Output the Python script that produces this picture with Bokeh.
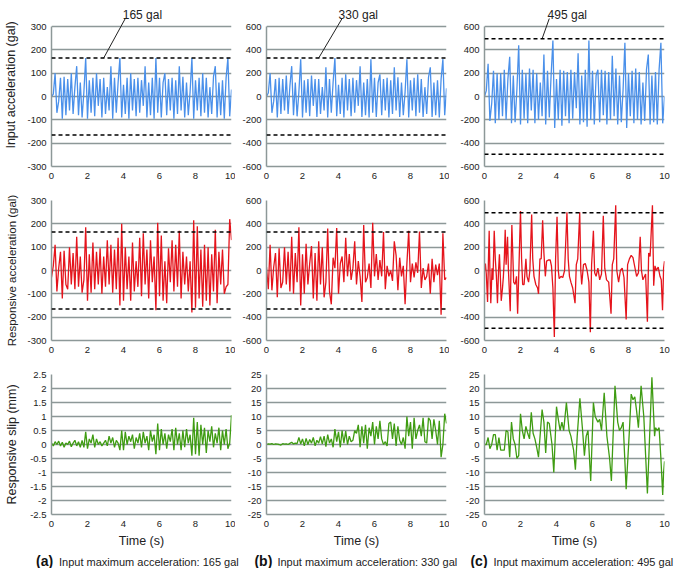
import numpy as np
from bokeh.plotting import figure
from bokeh.layouts import column, row
from bokeh.models import Range1d, FixedTicker, Span
from bokeh.core.properties import value
from bokeh.embed import file_html
from bokeh.resources import INLINE

# ---------------- data ----------------
input_165 = [0, 10, 100, -70, -20, 80, -95, 85, -80, 75, -60, 100, -75, 40, 130, -80, 60, -90, 20, 165,
             -95, 70, -70, 80, -85, 100, -40, 75, -90, 80, -75, 40, -60, 130, -95, 80, -70, 60, 165, -90,
             50, -75, 80, -95, 100, -60, 75, -85, 80, -70, 70, -40, 130, -90, 60, -80, 80, -95, 165, -70,
             80, -90, 60, 100, -80, 75, -60, 80, -95, 70, -75, 130, -60, 85, -90, 60, -80, 20, 165, -95,
             70, -60, 80, -85, 100, -70, 80, -90, 40, -75, 85, 130, -90, 60, -80, 70, -95, 80, 165, -85, 30]
input_330 = [0, 30, 200, -140, -40, 150, -180, 160, -150, 150, -120, 180, -150, 90, 260, -160, 120, -170, 40, 320,
             -180, 140, -140, 150, -170, 180, -80, 150, -175, 150, -150, 80, -120, 250, -180, 150, -140, 120, 330, -170,
             100, -150, 160, -180, 190, -120, 150, -170, 160, -140, 140, -80, 260, -175, 120, -160, 150, -180, 320, -140,
             160, -175, 120, 190, -160, 150, -120, 160, -180, 140, -150, 250, -120, 165, -175, 120, -160, 40, 320, -180,
             140, -120, 160, -170, 190, -140, 150, -175, 80, -150, 165, 250, -175, 120, -160, 140, -180, 150, 320, -160, 70]
input_495 = [0, 50, 280, -210, -60, 220, -230, 200, -200, 200, -170, 230, -200, 150, 340, -230, 180, -220, 60, 440,
             -240, 230, -190, 200, -230, 240, -120, 230, -230, 200, -200, 120, -170, 360, -240, 220, -180, 180, 480, -270,
             150, -200, 230, -250, 220, -170, 210, -230, 230, -190, 210, -100, 370, -240, 180, -220, 230, -260, 480, -200,
             220, -240, 180, 230, -220, 230, -160, 220, -240, 210, -200, 350, -170, 240, -240, 180, -220, 60, 460, -270,
             200, -170, 220, -230, 240, -200, 210, -240, 120, -210, 230, 360, -240, 180, -220, 210, -240, 230, 460, -230, 0]

resp_165 = [-30, 20, 110, -90, 10, 80, -120, 85, -60, -80, 100, -60, 75, -80, 145, -70, 60, -95, -40, 185,
            -130, 70, -95, 120, -80, 80, -60, 95, -100, 60, -70, 130, -60, 110, -95, 90, -80, 140, -150, 200,
            -130, 100, -80, 60, -130, 120, -90, 40, -70, 140, -110, 160, -60, 90, -120, 130, -50, 60, -170, 205,
            -110, 150, -130, 40, -140, 95, -50, 130, -90, 110, -70, 170, -120, 80, -60, 60, -90, 40, -180, 215,
            -160, 190, -120, 90, -155, 110, -130, 100, -150, 70, -90, 175, -140, 80, -60, 90, -100, -70, -60, 220, 130]
resp_330 = [30, -160, 220, -170, 30, 150, -230, 190, -150, -100, 200, -120, 160, -180, 290, -200, 150, -100, 370, -300,
            140, -200, 230, -120, 60, 210, -240, 150, -260, 250, -120, 200, -230, -100, 360, -180, -290, 110, 20, 365,
            -200, 60, 120, -100, 280, -50, 140, -80, 20, 250, -120, 80, -50, -270, 390, -100, -60, 60, -150, 410,
            -50, 140, -80, 90, -50, 330, -160, 40, -50, 0, -90, 250, 130, -170, 110, -50, 40, -290, 60, 340,
            -100, 60, -60, 70, -20, 335, -150, 20, -80, -50, 60, -200, 100, -100, 50, -40, 60, -380, 320, -80, -60]
resp_495_t = [0.0, 0.05, 0.1, 0.17, 0.22, 0.26, 0.3, 0.35, 0.42, 0.47, 0.54, 0.6, 0.66, 0.72, 0.78, 0.83, 0.88, 0.93,
              1.0, 1.05, 1.1, 1.15, 1.2, 1.28, 1.33, 1.43, 1.47, 1.52, 1.57, 1.62, 1.7, 1.78, 1.84, 1.9, 2.0, 2.06,
              2.12, 2.2, 2.3, 2.36, 2.45, 2.52, 2.62, 2.68, 2.75, 2.85, 2.95, 3.0, 3.08, 3.15, 3.23, 3.3, 3.38, 3.45,
              3.55, 3.65, 3.72, 3.8, 3.88, 3.95, 4.03, 4.1, 4.15, 4.25, 4.35, 4.45, 4.58, 4.65, 4.72, 4.8, 4.9, 5.03,
              5.1, 5.18, 5.29, 5.35, 5.4, 5.5, 5.6, 5.7, 5.8, 5.88, 5.95, 6.05, 6.12, 6.2, 6.3, 6.4, 6.5, 6.6, 6.68,
              6.78, 6.9, 7.03, 7.1, 7.18, 7.29, 7.35, 7.45, 7.55, 7.65, 7.75, 7.87, 7.95, 8.05, 8.15, 8.25, 8.35, 8.45,
              8.55, 8.65, 8.72, 8.8, 8.95, 9.05, 9.12, 9.2, 9.33, 9.4, 9.47, 9.55, 9.65, 9.75, 9.82, 9.89, 9.95, 10.0]
resp_495 = [0, 60, -30, -270, 100, 340, 0, -280, 20, -80, 340, 100, -50, -280, 0, 140, -50, -260,
            -150, -50, 100, 350, 50, 290, 0, -350, 0, 390, 150, -100, -120, -50, -370, -50, 510, 100,
            -120, -120, 100, -50, -100, 0, 480, 100, -50, -120, -150, -200, 100, 100, 430, 150, -50, 80,
            90, 90, 40, -150, -570, 100, 460, 0, -70, -50, -60, 0, 500, 100, -50, -100, -150, -280,
            50, 100, 500, 0, -120, 50, 60, 0, -100, -530, 50, 340, -20, -50, 20, -80, -30, 470, 20,
            -80, -100, -370, 50, 100, 560, 0, -100, 0, 20, -60, -420, 50, 100, 130, 110, 30, -50,
            -20, 290, 0, -80, -30, -440, 150, 120, 560, -130, 40, 0, 30, -50, -80, -340, 20, 80]

slip_165 = [0.05, -0.05, 0.1, 0.0, 0.12, -0.05, 0.08, -0.1, 0.05, 0.0, 0.12, -0.08, 0.05, 0.15, -0.05, 0.1, -0.1,
            0.15, -0.1, 0.45, -0.15, 0.2, 0.05, 0.35, -0.1, 0.2, 0.0, 0.1, -0.05, 0.05, 0.15, -0.05, 0.3, 0.05,
            0.25, -0.1, 0.15, 0.05, -0.2, 0.5, -0.2, 0.45, 0.0, 0.3, 0.1, 0.35, -0.15, 0.25, 0.05, 0.4, -0.1,
            0.45, 0.05, 0.3, -0.2, 0.5, 0.1, 0.35, -0.35, 0.75, -0.2, 0.55, 0.0, 0.4, -0.15, 0.35, 0.1, 0.55,
            -0.2, 0.6, 0.0, 0.4, -0.2, 0.5, -0.1, 0.55, 0.05, 0.35, -0.4, 0.95, -0.35, 0.8, -0.4, 0.7, 0.0, 0.6,
            -0.3, 0.5, 0.1, 0.65, -0.1, 0.4, 0.05, 0.6, -0.2, 0.5, 0.0, 0.55, -0.15, 0.05, 1.05]
slip_330 = [0, 0.2, 0.1, 0.3, 0, 0.2, 0.1, 0, -0.2, 0.3, 0.1, 0.2, 0, 0.4, 0.8, 0.2, 0.5, 0.3, 2.5, 0.2,
            2.0, -0.5, 2.2, 0.0, 1.8, 0.5, 2.5, -0.5, 1.5, 0.5, 2.8, 0.2, 3.0, -0.8, 3.5, 0.5, 2.0, -1.0, 5.5, 1.0,
            4.5, -1.0, 5.0, 0.5, 4.8, 0.0, 3.0, 1.0, 1.5, 5.0, 4.0, 7.0, -1.0, 6.5, 0.5, 7.0, -1.5, 6.0, 3.0, 8.0,
            0.0, 6.5, 2.0, 8.5, 2.0, 0.0, 1.0, -0.5, 7.5, 8.0, 2.0, 7.5, -0.5, 6.5, 1.5, 0.0, 2.5, -1.5, 10.0, 3.0,
            8.0, -1.5, 9.5, 2.0, 5.0, 7.0, 3.0, 9.5, 1.0, 0.5, 9.5, 8.5, 2.0, 9.0, 5.0, 0.0, 8.5, -4.5, 0.0, 11.0, 7.5]
slip_495_t = [0.0, 0.1, 0.2, 0.3, 0.4, 0.5, 0.6, 0.7, 0.8, 0.9, 1.1, 1.2, 1.3, 1.4, 1.5, 1.6, 1.7, 1.8, 1.9,
              2.0, 2.1, 2.2, 2.3, 2.4, 2.5, 2.6, 2.7, 2.8, 2.9, 3.0, 3.1, 3.2, 3.3, 3.4, 3.5, 3.6, 3.75, 3.85,
              4.0, 4.1, 4.2, 4.3, 4.4, 4.55, 4.7, 4.8, 4.95, 5.05, 5.15, 5.3, 5.45, 5.55, 5.65, 5.75, 5.9, 6.05,
              6.15, 6.3, 6.4, 6.5, 6.65, 6.8, 6.95, 7.05, 7.25, 7.4, 7.5, 7.6, 7.7, 7.87, 8.05, 8.15, 8.25, 8.35,
              8.45, 8.55, 8.7, 8.85, 9.05, 9.3, 9.45, 9.5, 9.6, 9.7, 9.8, 9.9, 9.95, 10.0]
slip_495 = [0, 0, 2.5, -1.5, 0, 3.5, 3.5, -2, 2.5, -2, -2, 5, 4.5, -4.5, 8, 2, 0, -5, -4,
            11, 5, 2, 6.5, 4, 2, 11.5, 4, 2, -1, -4.5, 4, 12.5, 8, -3, 8, 7.5, 0, -10,
            13.5, 9, 5, 8, 5, 15, 5, 3, -2, -9, 3, 16.5, 5, -4, 3, 5, -13, 15,
            10, 8, 9, 5, 18.5, 3, -5, -13, 21, 8, 5, 6, 8, -16, 5, 18, 16, 17,
            12, 6, 21, 10, -17.5, 24, 3, 6, 5, 6, -5, -18, -10, -6]

input_max = [165, 330, 495]
letters = ["(a)", "(b)", "(c)"]
row_titles = ["Input acceleration (gal)", "Responsive acceleration (gal)", "Responsive slip (mm)"]
acc_ticks = [[-300, -200, -100, 0, 100, 200, 300], [-600, -400, -200, 0, 200, 400, 600],
             [-600, -400, -200, 0, 200, 400, 600]]
slip_ticks_a = [-2.5, -2, -1.5, -1, -0.5, 0, 0.5, 1, 1.5, 2, 2.5]
slip_ticks_bc = [-25, -20, -15, -10, -5, 0, 5, 10, 15, 20, 25]
x_ticks = [0, 2, 4, 6, 8, 10]

# ---------------- styling / layout ----------------
FONT = "Liberation Sans"
GRID = "#8d9898"
BLUE = "#4a90ea"
RED = "#e5141c"
GREEN = "#3f9c12"
TXT = "#222222"

FRAME_W, FRAME_H = 180, 140
HEAD = 23            # extra frame space above the first row's axes (for the "xxx gal" notes)
col_w = [(235, 51, 4), (214, 31, 3), (231, 35, 16)]   # width, border left, border right
row_h = [(190, 3, 24), (174, 10, 24), (186, 10, 36)]  # height, border top, border bottom
BOT_H = 18
TOTAL_W = sum(c[0] for c in col_w)
frame_left = [col_w[0][1], col_w[0][0] + col_w[1][1], col_w[0][0] + col_w[1][0] + col_w[2][1]]
ylab_standoff = [6, 6, 8]
ylab_size = ["12.5px", "11.5px", "12.5px"]


def make_fig(ci, ri, yticks, head=0):
    w, bl, br = col_w[ci]
    h, bt, bb = row_h[ri]
    ymin, ymax = yticks[0], yticks[-1]
    ytop = ymax + head / FRAME_H * (ymax - ymin)
    p = figure(width=w, height=h, output_backend="svg", toolbar_location=None,
               x_range=Range1d(0, 10), y_range=Range1d(ymin, ytop),
               min_border_left=bl, min_border_right=br, min_border_top=bt, min_border_bottom=bb)
    p.outline_line_color = None
    p.background_fill_color = "white"
    p.border_fill_color = "white"
    yt = FixedTicker(ticks=yticks)
    xt = FixedTicker(ticks=x_ticks)
    p.yaxis.ticker = yt
    p.ygrid.ticker = yt
    p.xaxis.ticker = xt
    p.yaxis.bounds = (ymin, ymax)
    p.xgrid.visible = False
    p.ygrid.grid_line_color = GRID
    p.ygrid.grid_line_width = 1.5
    p.yaxis.major_label_overrides = {v: "%g" % v for v in yticks}
    for ax in (p.xaxis[0], p.yaxis[0]):
        ax.axis_line_color = GRID
        ax.axis_line_width = 1.5
        ax.major_tick_line_color = None
        ax.minor_tick_line_color = None
        ax.major_tick_out = 0
        ax.major_tick_in = 0
        ax.major_label_text_font = FONT
        ax.major_label_text_font_size = "9.5px"
        ax.major_label_text_color = TXT
        ax.axis_label_text_font = FONT
        ax.axis_label_text_font_style = "normal"
        ax.axis_label_text_color = TXT
    p.yaxis.major_label_standoff = 5
    p.xaxis.major_label_standoff = 6
    if ci == 0:
        p.yaxis.axis_label = row_titles[ri]
        p.yaxis.axis_label_text_font_size = ylab_size[ri]
        p.yaxis.axis_label_standoff = ylab_standoff[ri]
    if ri == 2:
        p.xaxis.axis_label = "Time (s)"
        p.xaxis.axis_label_text_font_size = "12.5px"
        p.xaxis.axis_label_standoff = 4
    return p


def strip(height):
    s = figure(width=TOTAL_W, height=height, output_backend="svg", toolbar_location=None,
               x_range=Range1d(0, TOTAL_W), y_range=Range1d(height, 0),
               x_axis_type=None, y_axis_type=None, min_border=0)
    s.outline_line_color = None
    s.xgrid.visible = False
    s.ygrid.visible = False
    s.background_fill_color = "white"
    s.border_fill_color = "white"
    return s


inputs = [input_165, input_330, input_495]
resps = [(list(np.linspace(0, 10, len(resp_165))), resp_165),
         (list(np.linspace(0, 10, len(resp_330))), resp_330),
         (resp_495_t, resp_495)]
slips = [(list(np.linspace(0, 10, len(slip_165))), slip_165),
         (list(np.linspace(0, 10, len(slip_330))), slip_330),
         (slip_495_t, slip_495)]

# annotation anchors, in each panel's data x; heights in px above the top gridline
lab_x = [5.05, 5.1, 4.6]
lead_top_x = [4.1, 4.2, 3.6]
lead_bot_x = [2.9, 2.9, 3.2]
cap_x = [-0.86, -0.67, -0.78]
LAB_UP, LEAD_UP = 12, 8

bot = strip(BOT_H)
r1, r2, r3 = [], [], []
for ci in range(3):
    yt = acc_ticks[ci]
    ymin, ymax = yt[0], yt[-1]
    per_px = (ymax - ymin) / FRAME_H
    fl = frame_left[ci]

    # ---- row 1: input acceleration ----
    p = make_fig(ci, 0, yt, head=HEAD)
    xs = list(np.linspace(0, 10, len(inputs[ci])))
    p.line(xs, inputs[ci], line_color=BLUE, line_width=1.3)
    for s in (input_max[ci], -input_max[ci]):
        p.add_layout(Span(location=s, dimension="width", line_color="black",
                          line_dash="4 3", line_width=1.5))
    p.segment(x0=[lead_top_x[ci]], y0=[ymax + LEAD_UP * per_px], x1=[lead_bot_x[ci]], y1=[input_max[ci]],
              line_color="#222222", line_width=1)
    p.text(x=[lab_x[ci]], y=[ymax + LAB_UP * per_px], text=["%d gal" % input_max[ci]],
           text_font=value(FONT), text_font_size=value("12px"), text_color=TXT,
           text_align="center", text_baseline="middle")
    r1.append(p)

    # ---- row 2: responsive acceleration ----
    p = make_fig(ci, 1, yt)
    p.line(resps[ci][0], resps[ci][1], line_color=RED, line_width=1.3)
    for s in (input_max[ci], -input_max[ci]):
        p.add_layout(Span(location=s, dimension="width", line_color="black",
                          line_dash="4 3", line_width=1.5))
    r2.append(p)

    # ---- row 3: responsive slip ----
    st = slip_ticks_a if ci == 0 else slip_ticks_bc
    p = make_fig(ci, 2, st)
    p.line(slips[ci][0], slips[ci][1], line_color=GREEN, line_width=1.3)
    r3.append(p)

    # ---- caption ----
    cx = fl + cap_x[ci] * FRAME_W / 10
    bot.text(x=[cx], y=[10.5], text=[letters[ci]], text_font=value(FONT),
             text_font_size=value("14px"), text_font_style="bold", text_color="#111111",
             text_align="left", text_baseline="middle")
    bot.text(x=[cx + 23], y=[11], text=["Input maximum acceleration: %d gal" % input_max[ci]],
             text_font=value(FONT), text_font_size=value("11px"), text_color=TXT,
             text_align="left", text_baseline="middle")

layout = column(row(*r1), row(*r2), row(*r3), bot)
open("out.html", "w").write(file_html(layout, INLINE))
